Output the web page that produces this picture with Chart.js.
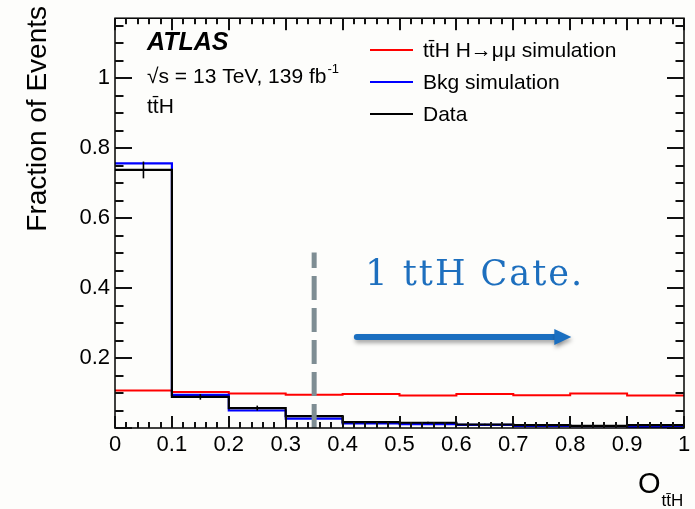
<!DOCTYPE html>
<html>
<head>
<meta charset="utf-8">
<script src="https://cdn.jsdelivr.net/npm/chart.js@4/dist/chart.umd.min.js"></script>
<style>
  html, body { margin: 0; padding: 0; background: #fdfdfb; }
  #wrap { position: relative; width: 695px; height: 509px; }
  canvas { display: block; }
</style>
</head>
<body>
<div id="wrap"><canvas id="c" width="695" height="509"></canvas></div>
<script>
// O_ttH score histogram: fractions of events per bin
const binEdges   = [0, 0.1, 0.2, 0.3, 0.4, 0.5, 0.6, 0.7, 0.8, 0.9, 1.0];
const signalFrac = [0.107, 0.103, 0.099, 0.095, 0.097, 0.093, 0.097, 0.094, 0.099, 0.093];
const bkgFrac    = [0.757, 0.095, 0.050, 0.027, 0.013, 0.011, 0.009, 0.006, 0.005, 0.003];
const dataFrac   = [0.738, 0.089, 0.057, 0.034, 0.017, 0.015, 0.010, 0.008, 0.006, 0.008];
const dataErr    = [0.024, 0.008, 0.007, 0.004, 0.003, 0.003, 0.002, 0.002, 0.002, 0.002];

const xTickValues = [0, 0.1, 0.2, 0.3, 0.4, 0.5, 0.6, 0.7, 0.8, 0.9, 1];
const xTickLabels = ['0', '0.1', '0.2', '0.3', '0.4', '0.5', '0.6', '0.7', '0.8', '0.9', '1'];
const yTickValues = [0.2, 0.4, 0.6, 0.8, 1];
const yTickLabels = ['0.2', '0.4', '0.6', '0.8', '1'];

const seriesNames = ['t\u0074\u0304H H\u2192\u03bc\u03bc simulation', 'Bkg simulation', 'Data'];

// category boundary and its annotation (data units)
const categoryCut = 0.35;
const categoryCutTop = 0.502;
const categoryLabel = '1 ttH Cate.';
const categoryLabelPos = { x: 0.44, y: 0.408 };
const arrowFrom = { x: 0.425, y: 0.26 };
const arrowTo   = { x: 0.802, y: 0.26 };

const SANS = '"Liberation Sans", Arial, Helvetica, sans-serif';
const SERIF = '"DejaVu Serif", Georgia, serif';

function stepPoints(vals) {
  const pts = vals.map((v, i) => ({ x: binEdges[i], y: v }));
  pts.push({ x: binEdges[binEdges.length - 1], y: vals[vals.length - 1] });
  return pts;
}

// error bars, category marker, labels and legend
const overlays = {
  id: 'overlays',
  afterDatasetsDraw(chart) {
    const ctx = chart.ctx;
    const xs = chart.scales.x, ys = chart.scales.y;

    ctx.save();
    ctx.setLineDash([]);
    ctx.strokeStyle = '#000';
    ctx.lineWidth = 1.6;
    dataFrac.forEach((v, i) => {
      const xc = xs.getPixelForValue((binEdges[i] + binEdges[i + 1]) / 2);
      ctx.beginPath();
      ctx.moveTo(xc, ys.getPixelForValue(v - dataErr[i]));
      ctx.lineTo(xc, ys.getPixelForValue(v + dataErr[i]));
      ctx.stroke();
    });
    ctx.restore();

    ctx.save();
    ctx.strokeStyle = '#7e8d93';
    ctx.lineWidth = 5;
    ctx.setLineDash([24, 8]);
    const cx = xs.getPixelForValue(categoryCut);
    ctx.beginPath();
    ctx.moveTo(cx, ys.getPixelForValue(0));
    ctx.lineTo(cx, ys.getPixelForValue(categoryCutTop));
    ctx.stroke();
    ctx.restore();

    // ATLAS label block
    ctx.save();
    ctx.fillStyle = '#000';
    ctx.textBaseline = 'alphabetic';
    ctx.font = 'bold italic 25px ' + SANS;
    ctx.fillText('ATLAS', 147, 50);
    ctx.font = '21px ' + SANS;
    const energy = '\u221as = 13 TeV, 139 fb';
    ctx.fillText(energy, 147, 83);
    const ew = ctx.measureText(energy).width;
    ctx.font = '13px ' + SANS;
    ctx.fillText('-1', 147 + ew + 1, 73);
    ctx.font = '21px ' + SANS;
    ctx.fillText('t\u0074\u0304H', 147, 113);

    // legend
    const legendColors = ['#ff0000', '#0000ff', '#000000'];
    const legendY = [50, 82, 114];
    seriesNames.forEach((name, i) => {
      ctx.strokeStyle = legendColors[i];
      ctx.lineWidth = 2;
      ctx.beginPath();
      ctx.moveTo(370, legendY[i]); ctx.lineTo(413, legendY[i]);
      ctx.stroke();
      ctx.fillStyle = '#000';
      ctx.font = '21px ' + SANS;
      ctx.textBaseline = 'middle';
      ctx.fillText(name, 423, legendY[i] + 1);
    });

    // axis titles
    ctx.font = '28px ' + SANS;
    ctx.textBaseline = 'middle';
    ctx.save();
    ctx.translate(38, 6);
    ctx.rotate(-Math.PI / 2);
    ctx.textAlign = 'right';
    ctx.fillText('Fraction of Events', 0, 0);
    ctx.restore();

    ctx.textBaseline = 'alphabetic';
    ctx.textAlign = 'left';
    ctx.font = '29px ' + SANS;
    ctx.fillText('O', 638, 493);
    const ow = ctx.measureText('O').width;
    ctx.font = '17px ' + SANS;
    ctx.fillText('t\u0074\u0304H', 638 + ow + 1, 506);
    ctx.restore();

    // category annotation and arrow
    ctx.save();
    ctx.fillStyle = '#1d6fbe';
    ctx.font = '35px ' + SERIF;
    ctx.letterSpacing = '2px';
    ctx.textBaseline = 'alphabetic';
    ctx.fillText(categoryLabel, xs.getPixelForValue(categoryLabelPos.x), ys.getPixelForValue(categoryLabelPos.y));
    ctx.restore();

    ctx.save();
    const ax0 = xs.getPixelForValue(arrowFrom.x), ay = ys.getPixelForValue(arrowFrom.y);
    const ax1 = xs.getPixelForValue(arrowTo.x);
    ctx.shadowColor = 'rgba(0,0,0,0.35)';
    ctx.shadowBlur = 4;
    ctx.shadowOffsetX = 1;
    ctx.shadowOffsetY = 3;
    ctx.fillStyle = '#1b6fc0';
    ctx.strokeStyle = '#1b6fc0';
    ctx.lineWidth = 6;
    ctx.lineCap = 'round';
    ctx.beginPath();
    ctx.moveTo(ax0, ay);
    ctx.lineTo(ax1 - 14, ay);
    ctx.stroke();
    ctx.beginPath();
    ctx.moveTo(ax1, ay);
    ctx.lineTo(ax1 - 17, ay - 8);
    ctx.lineTo(ax1 - 17, ay + 8);
    ctx.closePath();
    ctx.fill();
    ctx.restore();
  }
};

// plot frame with inward ticks on all four sides
const axesFrame = {
  id: 'axesFrame',
  afterDraw(chart) {
    const ctx = chart.ctx;
    const xs = chart.scales.x, ys = chart.scales.y;
    const L = chart.chartArea.left, R = chart.chartArea.right;
    const T = chart.chartArea.top, B = chart.chartArea.bottom;
    ctx.save();
    ctx.setLineDash([]);
    ctx.strokeStyle = '#000000';
    ctx.lineWidth = 1.5;
    ctx.strokeRect(L, T, R - L, B - T);

    ctx.fillStyle = '#111111';
    const tw = 2;
    for (let k = 0; k <= 50; k++) {
      const px = Math.round(xs.getPixelForValue(k / 50)) - tw / 2;
      const len = (k % 5 === 0) ? 12 : 6;
      ctx.fillRect(px, B - len, tw, len);
      ctx.fillRect(px, T, tw, len);
    }
    for (let k = 0; k <= 23; k++) {
      const v = k * 0.05;
      if (v > ys.max) break;
      const py = Math.round(ys.getPixelForValue(v)) - tw / 2;
      const len = (k % 4 === 0) ? 17 : 8.5;
      ctx.fillRect(L, py, len, tw);
      ctx.fillRect(R - len, py, len, tw);
    }
    ctx.restore();
  }
};

new Chart(document.getElementById('c'), {
  type: 'line',
  data: {
    datasets: [
      { label: seriesNames[2], data: stepPoints(dataFrac), borderColor: '#000000', borderWidth: 2.2 },
      { label: seriesNames[1], data: stepPoints(bkgFrac), borderColor: '#0000ff', borderWidth: 2.2 },
      { label: seriesNames[0], data: stepPoints(signalFrac), borderColor: '#ff0000', borderWidth: 2 }
    ].map(d => Object.assign(d, { stepped: 'before', pointRadius: 0, fill: false, tension: 0 }))
  },
  options: {
    responsive: false,
    devicePixelRatio: 1,
    animation: false,
    layout: { padding: { left: 0, right: 11, top: 9, bottom: 0 } },
    plugins: { legend: { display: false }, tooltip: { enabled: false } },
    scales: {
      x: {
        type: 'linear', min: 0, max: 1,
        afterBuildTicks: s => { s.ticks = xTickValues.map(v => ({ value: v })); },
        afterFit: s => { s.height = 81; },
        grid: { display: false, drawTicks: false },
        border: { display: false },
        ticks: {
          autoSkip: false, maxRotation: 0, padding: 4, color: '#000',
          font: { family: SANS, size: 22 },
          callback: (v, i) => xTickLabels[i]
        }
      },
      y: {
        type: 'linear', min: 0, max: 1.172,
        afterBuildTicks: s => { s.ticks = yTickValues.map(v => ({ value: v })); },
        afterFit: s => { s.width = 115; },
        grid: { display: false, drawTicks: false },
        border: { display: false },
        ticks: {
          padding: 5, color: '#000',
          font: { family: SANS, size: 22 },
          callback: (v, i) => yTickLabels[i]
        }
      }
    }
  },
  plugins: [overlays, axesFrame]
});
</script>
</body>
</html>
